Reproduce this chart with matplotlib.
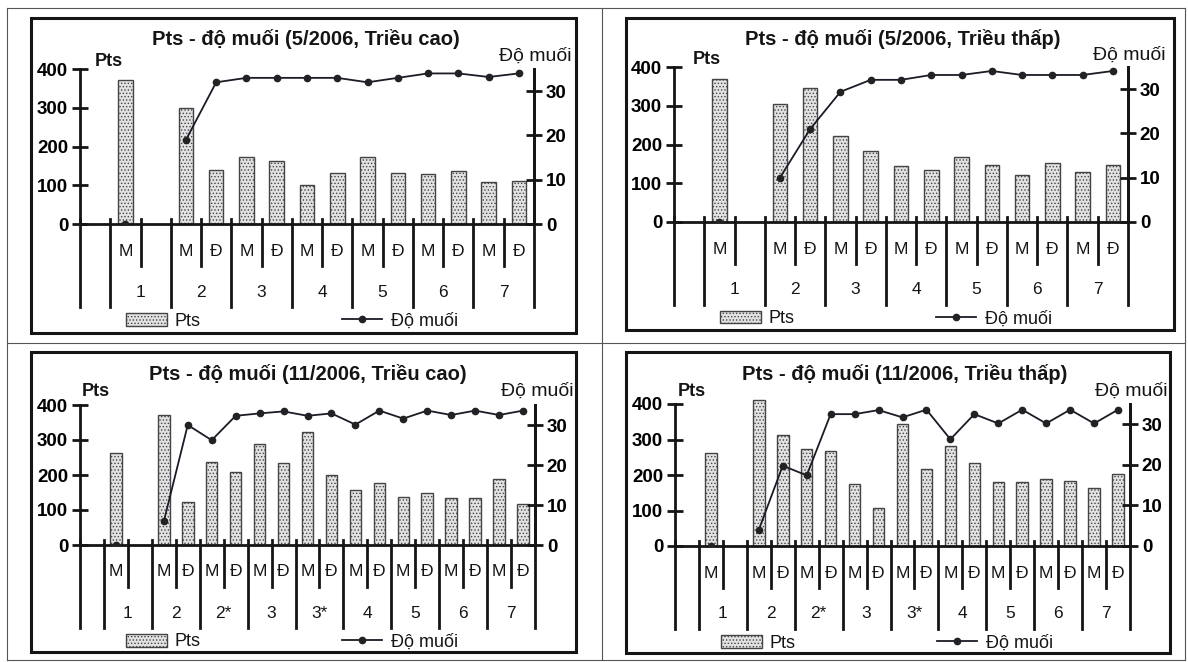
import numpy as np
import matplotlib
matplotlib.use('Agg')
import matplotlib.pyplot as plt
from matplotlib import transforms
from matplotlib.patches import Rectangle

W, H = 1188, 662
plt.rcParams['font.family'] = ['Liberation Sans', 'DejaVu Sans']
plt.rcParams['hatch.linewidth'] = 0.6

nan = np.nan

# group labels on the category axis
GROUPS_5 = ['1', '2', '3', '4', '5', '6', '7']
GROUPS_11 = ['1', '2', '2*', '3', '3*', '4', '5', '6', '7']
SUBS = ['M', 'Đ']

# values per group: M then Đ (group 1 only has M)
pts_5_cao = [372, nan, 300, 140, 172, 163, 100, 132, 174, 132, 128, 137, 108, 110]
sal_5_cao = [0, nan, 19, 32, 33, 33, 33, 33, 32, 33, 34, 34, 33.2, 34]

pts_5_thap = [369, nan, 304, 346, 222, 184, 145, 134, 167, 148, 121, 152, 129, 148]
sal_5_thap = [0, nan, 10, 21, 29.4, 32.1, 32.1, 33.2, 33.2, 34.1, 33.2, 33.2, 33.2, 34.1]

pts_11_cao = [262, nan, 371, 122, 238, 209, 288, 233, 322, 200, 156, 176,
              138, 149, 134, 134, 188, 117]
sal_11_cao = [0, nan, 5.9, 30, 26.2, 32.3, 32.9, 33.4, 32.3, 32.9, 30.1, 33.6,
              31.6, 33.6, 32.5, 33.6, 32.5, 33.6]

pts_11_thap = [263, nan, 411, 312, 273, 268, 175, 108, 345, 218, 283, 234,
               179, 179, 189, 183, 164, 204]
sal_11_thap = [0, nan, 4, 19.8, 17.4, 32.5, 32.5, 33.5, 31.7, 33.6, 26.3, 32.5,
               30.2, 33.6, 30.2, 33.6, 30.2, 33.6]

TITLES = ['Pts - độ muối (5/2006, Triều cao)', 'Pts - độ muối (5/2006, Triều thấp)',
          'Pts - độ muối (11/2006, Triều cao)', 'Pts - độ muối (11/2006, Triều thấp)']

# pixel layout: plot area (left axis x, top y, right axis x, zero y), frame box,
# title centre, "Pts" label (left, y), "Độ muối" label (right, y)
PANELS = [
    dict(plot=(80, 69, 534, 224), box=(31, 18, 576, 333), title=(306, 39),
         ylab=(95, 62), y2lab=(572, 56)),
    dict(plot=(674, 67, 1128, 222), box=(626, 18, 1174, 330), title=(903, 39),
         ylab=(693, 60), y2lab=(1166, 55)),
    dict(plot=(80, 405, 535, 545), box=(31, 352, 576, 652), title=(308, 374),
         ylab=(82, 392), y2lab=(574, 391)),
    dict(plot=(675, 404, 1130, 546), box=(626, 352, 1170, 653), title=(905, 374),
         ylab=(678, 392), y2lab=(1168, 391)),
]

INK = '#151515'

fig = plt.figure(figsize=(W / 100, H / 100), dpi=100)


def fx(x):
    return x / W


def fy(y):
    return 1 - y / H


# scanned table grid
for x in (7, 602, 1185):
    fig.add_artist(plt.Line2D([fx(x), fx(x)], [fy(8), fy(660)], color='#555', lw=0.8))
for y in (8, 343, 660):
    fig.add_artist(plt.Line2D([fx(7), fx(1185)], [fy(y), fy(y)], color='#555', lw=0.8))


def draw_panel(p, title, groups, pts, sal):
    l, t, r, b = p['plot']
    ax = fig.add_axes([fx(l), fy(b), (r - l) / W, (b - t) / H])
    h = b - t
    n = 1 + len(pts)
    x = np.arange(1, n)
    pts = np.array(pts, dtype=float)
    sal = np.array(sal, dtype=float)

    bars = ax.bar(x, pts, width=0.48, facecolor='#e2e2e2', edgecolor='#444',
                  hatch='.....', linewidth=1.0, zorder=2, clip_on=False)
    ax.set_xlim(-0.5, n - 0.5)
    ax.set_ylim(0, 400)
    ax.set_yticks(range(0, 401, 100))
    ax.set_xticks([])
    ax.spines['top'].set_visible(False)
    for s in ('left', 'right', 'bottom'):
        ax.spines[s].set_linewidth(2)
        ax.spines[s].set_color(INK)
    ax.tick_params(axis='y', direction='inout', length=11, width=2, color=INK, pad=3,
                   labelsize=13.5)
    for lab in ax.get_yticklabels():
        lab.set_fontweight('bold')

    ax2 = ax.twinx()
    ax2.set_ylim(0, 35)
    ax2.set_yticks([0, 10, 20, 30])
    ax2.set_xlim(-0.5, n - 0.5)
    for s in ('top', 'left', 'bottom'):
        ax2.spines[s].set_visible(False)
    ax2.spines['right'].set_linewidth(2)
    ax2.spines['right'].set_color(INK)
    ax2.tick_params(axis='y', direction='inout', length=11, width=2, color=INK, pad=3,
                    labelsize=13.5)
    for lab in ax2.get_yticklabels():
        lab.set_fontweight('bold')
    line, = ax2.plot(x, sal, color='#1b1b28', lw=1.3, marker='o', ms=4.5,
                     markerfacecolor='#222', markeredgecolor='#222', zorder=3)

    # multi-level category axis
    tr = transforms.blended_transform_factory(ax.transData, ax.transAxes)
    up, short, tall = 5 / h, -42 / h, -83 / h
    tall_x = [-0.5] + [0.5 + 2 * k for k in range(len(groups) + 1)]
    short_x = [1.5 + 2 * k for k in range(len(groups))]
    for xx in tall_x:
        ax.plot([xx, xx], [up, tall], transform=tr, clip_on=False, color=INK, lw=2)
    for xx in short_x:
        ax.plot([xx, xx], [up, short], transform=tr, clip_on=False, color=INK, lw=2)
    for i, v in enumerate(pts):
        if not np.isnan(v):
            ax.text(x[i], -27 / h, SUBS[i % 2], transform=tr, ha='center', va='center',
                    fontsize=12.5, color=INK)
    for k, g in enumerate(groups):
        ax.text(1.5 + 2 * k, -68 / h, g, transform=tr, ha='center', va='center',
                fontsize=12.5, color=INK)

    # axis names and title
    fig.text(fx(p['title'][0]), fy(p['title'][1]), title, ha='center', va='center',
             fontsize=14.5, fontweight='bold', color=INK)
    fig.text(fx(p['ylab'][0]), fy(p['ylab'][1]), 'Pts', ha='left', va='center',
             fontsize=13, fontweight='bold', color=INK)
    fig.text(fx(p['y2lab'][0]), fy(p['y2lab'][1]), 'Độ muối', ha='right', va='center',
             fontsize=14, color=INK)

    # legend
    leg = ax.legend([bars, line], ['Pts', 'Độ muối'], ncol=2, frameon=False,
                    loc='center left', bbox_to_anchor=(fx(l + 39), fy(b + 97)),
                    bbox_transform=fig.transFigure, fontsize=13, handlelength=2.25,
                    handletextpad=0.45, columnspacing=7.8, borderaxespad=0)
    for txt in leg.get_texts():
        txt.set_color(INK)

    # chart frame
    bl, bt, br, bb = p['box']
    fig.add_artist(Rectangle((fx(bl), fy(bb)), (br - bl) / W, (bb - bt) / H,
                             fill=False, edgecolor=INK, lw=2.2, transform=fig.transFigure))


draw_panel(PANELS[0], TITLES[0], GROUPS_5, pts_5_cao, sal_5_cao)
draw_panel(PANELS[1], TITLES[1], GROUPS_5, pts_5_thap, sal_5_thap)
draw_panel(PANELS[2], TITLES[2], GROUPS_11, pts_11_cao, sal_11_cao)
draw_panel(PANELS[3], TITLES[3], GROUPS_11, pts_11_thap, sal_11_thap)

fig.savefig('out.png', dpi=100, facecolor='white')
